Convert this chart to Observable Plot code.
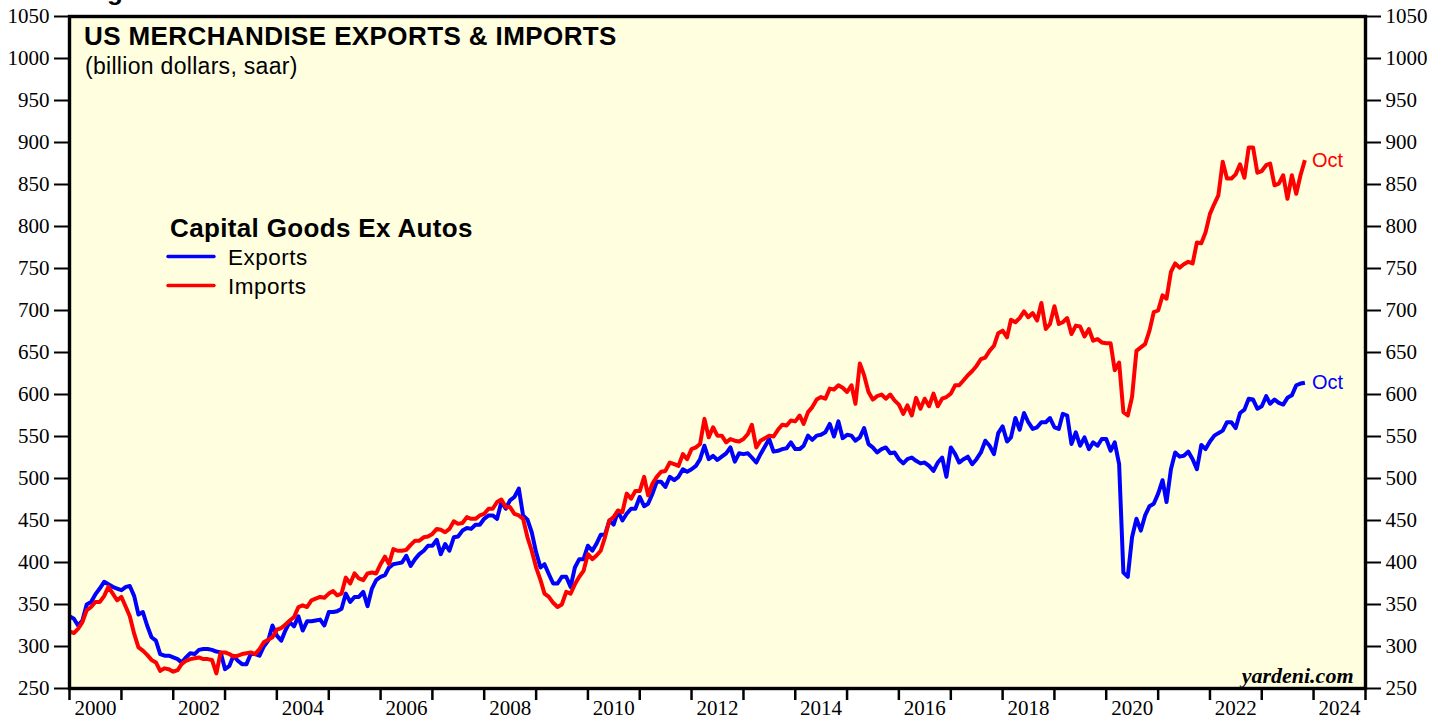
<!DOCTYPE html>
<html>
<head>
<meta charset="utf-8">
<script src="https://cdn.jsdelivr.net/npm/d3@7"></script>
<script src="https://cdn.jsdelivr.net/npm/@observablehq/plot@0.6"></script>
<style>
  body { margin: 0; background: #ffffff; }
  #chart { width: 1446px; height: 719px; overflow: hidden; }
</style>
</head>
<body>
<div id="chart"></div>
<script>
// ---- Data (billion dollars, saar), monthly, Dec 1999 .. Oct 2023 ----
const firstMonth = { year: 1999, month: 12 };
const seriesNames = ["Exports", "Imports"];
const seriesColors = ["#0000ff", "#ff0000"];
const lastLabel = "Oct";

const exportsValues = [
  336,333,325,331,350,353,362,369,377,374,371,369,367,371,372,360,338,341,325,311,307,291,289,289,287,285,281,287,292,291,296,297,297,296,294,293,273,277,289,283,279,279,291,291,289,300,307,325,313,307,319,329,324,336,319,330,330,331,332,325,341,341,342,
  345,363,353,359,359,365,348,369,379,383,385,394,398,399,400,408,396,404,410,414,420,420,427,410,422,414,430,431,438,441,440,445,445,452,456,456,452,472,464,474,478,488,456,451,436,412,394,398,386,375,375,383,383,371,394,404,404,420,414,422,433,433,450,445,461,
  450,458,464,464,478,467,470,482,496,496,490,502,498,502,511,508,511,515,523,539,523,527,522,526,530,537,520,530,529,530,525,519,529,538,547,532,533,535,536,543,535,535,539,551,546,551,552,555,565,550,568,548,552,551,545,549,560,541,537,531,535,537,530,531,523,518,523,525,521,518,
  519,515,509,519,525,502,537,529,519,523,526,517,523,531,545,539,529,554,562,544,549,572,558,578,567,559,561,567,567,572,561,559,577,575,541,555,539,549,535,543,539,547,547,533,543,517,
  388,383,430,452,438,456,467,470,482,498,472,511,531,526,527,532,523,511,540,535,544,551,554,557,567,567,560,578,582,595,594,583,586,598,589,594,590,588,596,599,611,613,614
];

const importsValues = [
  318,316,321,329,343,347,353,353,360,371,363,355,359,347,336,315,299,295,290,284,281,271,274,273,270,272,279,283,285,286,287,285,285,284,268,293,293,291,288,289,291,292,293,291,297,305,308,311,320,322,326,331,335,347,349,347,355,357,359,358,363,366,361,
  363,382,375,387,381,379,387,388,387,398,407,398,416,414,414,415,421,426,426,430,431,434,440,439,436,440,449,446,447,454,452,452,456,458,464,464,472,475,466,466,458,456,452,430,414,394,379,363,359,352,347,350,365,363,374,383,390,410,404,408,414,430,450,454,462,
  460,482,476,485,485,502,480,494,502,508,509,519,517,515,529,523,535,537,541,571,549,561,551,551,543,547,545,544,547,553,564,537,545,548,551,550,558,564,563,569,568,575,565,579,585,594,597,595,607,606,611,608,603,611,589,637,623,603,594,598,600,595,600,593,588,577,587,575,596,583,
  595,586,601,586,595,597,601,611,611,617,623,628,634,642,644,652,658,673,676,668,689,686,691,699,692,697,688,709,678,684,705,684,686,691,672,682,681,669,678,664,666,662,661,661,629,638,
  579,575,597,652,656,660,676,698,700,718,714,746,756,751,755,758,756,781,780,793,815,827,837,877,857,857,862,874,858,894,894,864,866,873,875,849,851,861,833,861,839,861,879
];

const yTickValues = [250,300,350,400,450,500,550,600,650,700,750,800,850,900,950,1000,1050];
const yearTickValues = [2000,2001,2002,2003,2004,2005,2006,2007,2008,2009,2010,2011,2012,2013,2014,2015,2016,2017,2018,2019,2020,2021,2022,2023,2024,2025];
const yearLabelValues = [2000,2002,2004,2006,2008,2010,2012,2014,2016,2018,2020,2022,2024];

const titleText = "US MERCHANDISE EXPORTS & IMPORTS";
const subtitleText = "(billion dollars, saar)";
const legendTitle = "Capital Goods Ex Autos";
const creditText = "yardeni.com";

// ---- Build table: each monthly value is plotted at the end of its month ----
function monthEnd(k) { return new Date(Date.UTC(firstMonth.year, firstMonth.month - 1 + k + 1, 1)); }
const valuesBySeries = [exportsValues, importsValues];
const rows = seriesNames.flatMap((name, s) =>
  valuesBySeries[s].map((v, k) => ({ date: monthEnd(k), value: v, series: name })));
const lastRows = seriesNames.map((name, s) => {
  const vals = valuesBySeries[s];
  return { date: monthEnd(vals.length - 1), value: vals[vals.length - 1], series: name, label: lastLabel };
});

const yearTickDates = yearTickValues.map(y => new Date(Date.UTC(y, 0, 1)));
const yearLabelDates = yearLabelValues.map(y => new Date(Date.UTC(y, 6, 2)));

const chart = Plot.plot({
  width: 1446,
  height: 719,
  marginLeft: 69,
  marginRight: 81,
  marginTop: 16,
  marginBottom: 31,
  style: { fontFamily: "'Liberation Serif', 'Times New Roman', serif", fontSize: "21px", background: "#ffffff", color: "#000", overflow: "visible" },
  x: { type: "utc", domain: [yearTickDates[0], yearTickDates[yearTickDates.length - 1]] },
  y: { domain: [250, 1050] },
  color: { domain: seriesNames, range: seriesColors },
  marks: [
    Plot.frame({ fill: "#ffffe0", stroke: null }),
    Plot.line(rows, { x: "date", y: "value", z: "series", stroke: "series", strokeWidth: 4, strokeLinejoin: "round", strokeLinecap: "butt", clip: true }),
    Plot.text(lastRows, { x: "date", y: "value", text: "label", fill: "series", dx: 7, dy: 0, textAnchor: "start", fontFamily: "'Liberation Sans', Arial, sans-serif", fontSize: 20 }),
    Plot.text([creditText], { text: d => d, frameAnchor: "bottom-right", dx: -12, dy: -6, lineAnchor: "bottom", fontFamily: "'Liberation Serif', 'Times New Roman', serif", fontWeight: "bold", fontStyle: "italic", fontSize: 22 }),
    Plot.axisY({ anchor: "left", ticks: yTickValues, tickSize: 15, tickPadding: 5, strokeWidth: 2, label: null, tickFormat: d => String(d) }),
    Plot.axisY({ anchor: "right", ticks: yTickValues, tickSize: 15, tickPadding: 5, strokeWidth: 2, label: null, tickFormat: d => String(d) }),
    Plot.axisX({ ticks: yearTickDates, tickSize: 12, strokeWidth: 2.5, tickFormat: () => "", label: null }),
    Plot.axisX({ ticks: yearLabelDates, tickSize: 0, tickPadding: 12, tickFormat: d => String(d.getUTCFullYear()), label: null }),
    Plot.frame({ stroke: "#000", strokeWidth: 3.4 })
  ]
});

document.getElementById("chart").appendChild(chart);

// ---- Annotations (title, subtitle, legend) ----
const svg = d3.select(chart);
const sans = "'Liberation Sans', Arial, Helvetica, sans-serif";
const ann = svg.append("g").attr("font-family", sans).attr("fill", "#000").attr("text-anchor", "start");

ann.append("text").attr("x", 84).attr("y", 0).attr("font-size", 26).attr("font-weight", "bold").text("Figure 3.");
ann.append("text").attr("x", 84).attr("y", 44.5).attr("font-size", 26).attr("font-weight", "bold").attr("letter-spacing", 0.4).text(titleText);
ann.append("text").attr("x", 85).attr("y", 74).attr("font-size", 23).attr("letter-spacing", 0.3).text(subtitleText);

ann.append("text").attr("x", 170).attr("y", 236.5).attr("font-size", 26).attr("font-weight", "bold").attr("letter-spacing", 0.35).text(legendTitle);
const legendY = [256.5, 285.5];
const legendBase = [265, 293.5];
seriesNames.forEach((name, i) => {
  ann.append("line").attr("x1", 168).attr("x2", 214).attr("y1", legendY[i]).attr("y2", legendY[i])
    .attr("stroke", seriesColors[i]).attr("stroke-width", 3.4).attr("stroke-linecap", "round");
  ann.append("text").attr("x", 228).attr("y", legendBase[i]).attr("font-size", 22.5).attr("letter-spacing", 0.5).text(name);
});
</script>
</body>
</html>
